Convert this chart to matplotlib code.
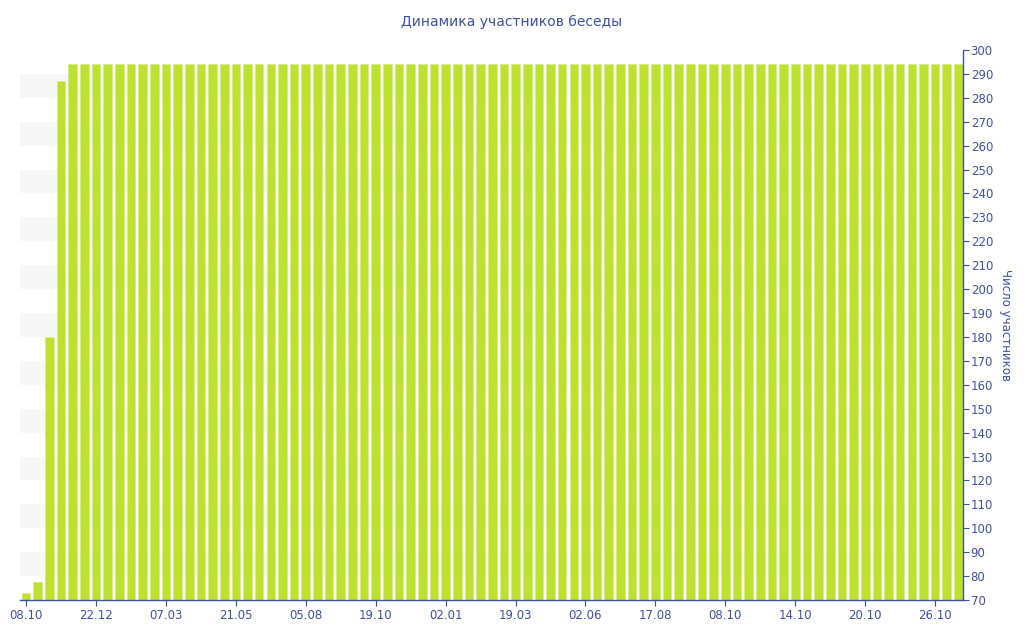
import matplotlib
matplotlib.use("Agg")
import matplotlib.pyplot as plt
import numpy as np

# participants per day (81 bars, categorical x axis)
values = [73, 77.5, 180, 287,
          294, 294, 294, 294, 294, 294, 294, 294, 294, 294,
          294, 294, 294, 294, 294, 294, 294, 294, 294, 294,
          294, 294, 294, 294, 294, 294, 294, 294, 294, 294,
          294, 294, 294, 294, 294, 294, 294, 294, 294, 294,
          294, 294, 294, 294, 294, 294, 294, 294, 294, 294,
          294, 294, 294, 294, 294, 294, 294, 294, 294, 294,
          294, 294, 294, 294, 294, 294, 294, 294, 294, 294,
          294, 294, 294, 294, 294, 294, 294]
tick_labels = ["08.10", "22.12", "07.03", "21.05", "05.08", "19.10", "02.01",
               "19.03", "02.06", "17.08", "08.10", "14.10", "20.10", "26.10"]
tick_step = 6

title = "Динамика участников беседы"
ylabel = "Число участников"

text_col = "#3d52a1"
bar_col = "#bee12f"

fig = plt.figure(figsize=(10.24, 6.4), dpi=100)
ax = fig.add_axes([20 / 1024, 40 / 640, 943 / 1024, 550 / 640])

x = np.arange(len(values))
ax.bar(x, values, width=0.74, color=bar_col, edgecolor="#d6ed86", linewidth=0.6, zorder=2)

# alternating horizontal bands
for lo in range(80, 300, 20):
    ax.axhspan(lo, lo + 10, color="#f7f7f7", zorder=0, lw=0)

ax.set_ylim(70, 300)
ax.set_xlim(-0.52, len(values) - 1 + 0.39)
ax.set_yticks(range(70, 301, 10))
ax.set_xticks(x[::tick_step])
ax.set_xticklabels(tick_labels)

ax.yaxis.tick_right()
ax.yaxis.set_label_position("right")
ax.set_ylabel(ylabel, rotation=-90, labelpad=14, color=text_col, fontsize=8.5)

for s in ["left", "top"]:
    ax.spines[s].set_visible(False)
for s in ["right", "bottom"]:
    ax.spines[s].set_color(text_col)
    ax.spines[s].set_linewidth(1)

ax.tick_params(axis="both", colors=text_col, labelsize=8.5, length=4, width=0.8, pad=1.5)
ax.tick_params(axis="x", pad=2.5)

fig.text(0.5, 1 - 22 / 640, title, ha="center", va="center", color=text_col, fontsize=10)

fig.savefig("out.png", dpi=100)
